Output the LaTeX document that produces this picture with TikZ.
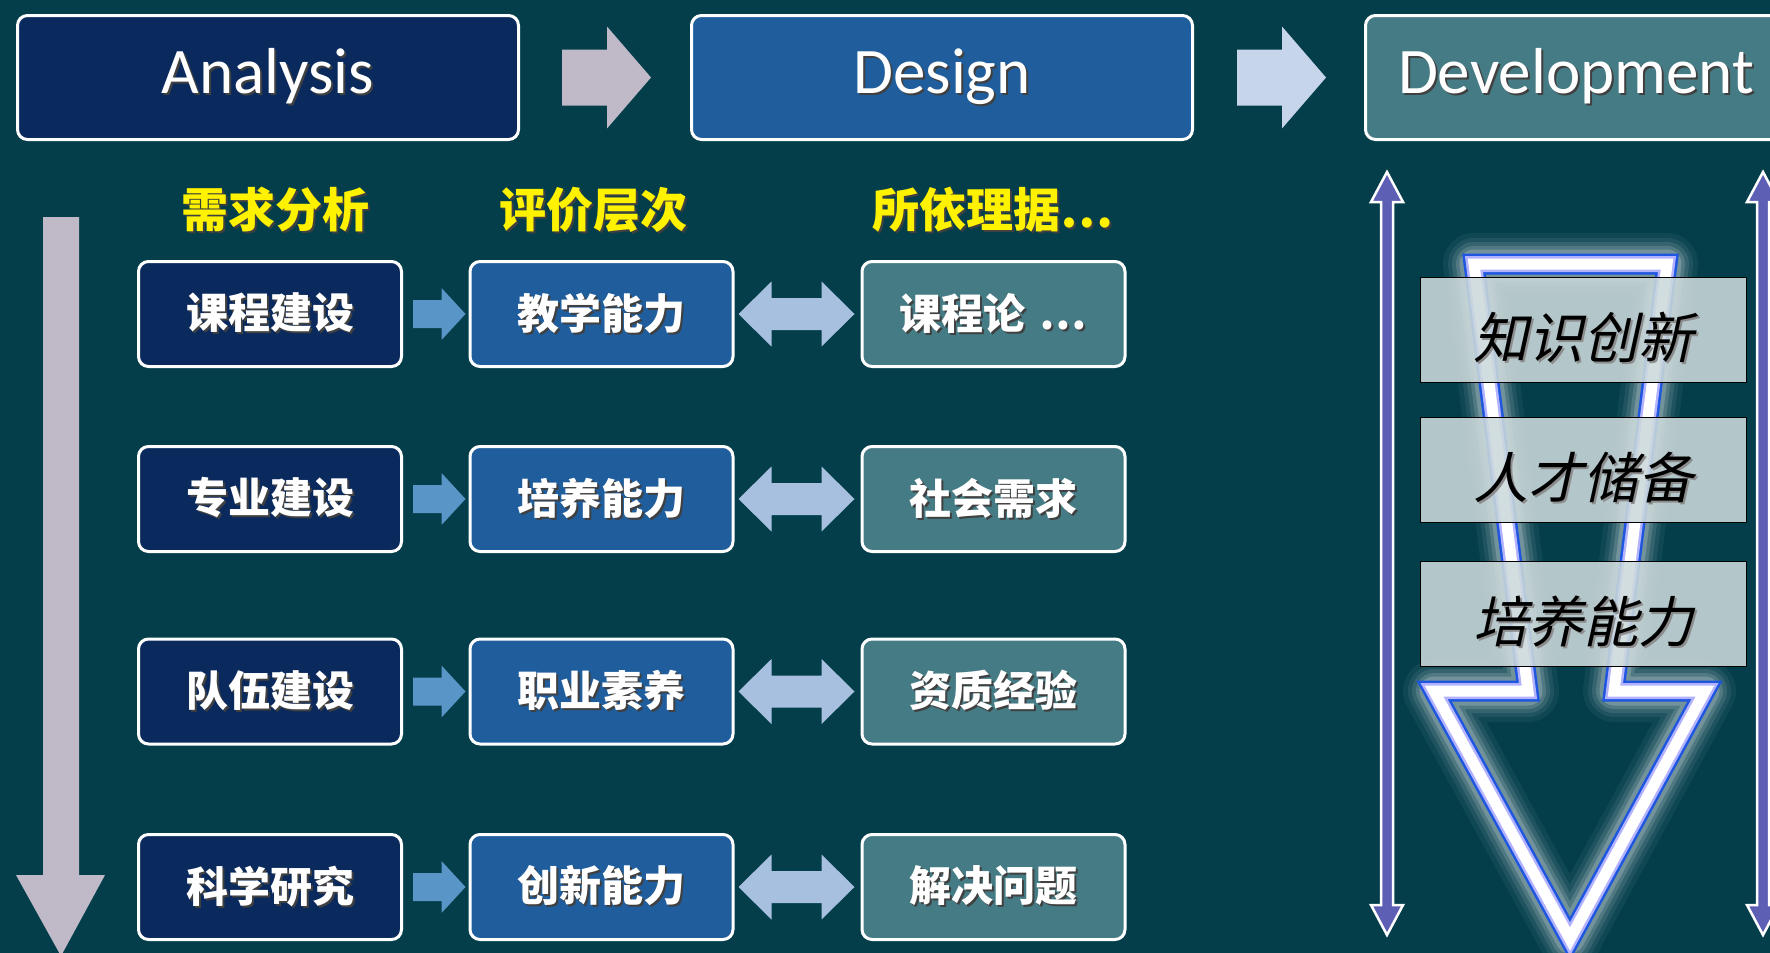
\documentclass[tikz,border=0pt]{standalone}
\usepackage{fontspec}
\setmainfont{Carlito}
\newfontfamily\cjk{Noto Sans CJK SC}
\newfontfamily\cjkit[FakeSlant=0.22]{Noto Sans CJK SC}
\usetikzlibrary{calc}

\definecolor{bgteal}{HTML}{033E4A}
\definecolor{navy}{HTML}{0A2A5E}
\definecolor{midblue}{HTML}{1F5D9D}
\definecolor{teal2}{HTML}{457B84}
\definecolor{lav}{HTML}{C0B9C7}
\definecolor{ltblue}{HTML}{C6D5EA}
\definecolor{smblue}{HTML}{5A95C8}
\definecolor{dblue}{HTML}{A7C0DF}
\definecolor{purp}{HTML}{5C5FB3}
\definecolor{glowblue}{HTML}{1E56E0}
\definecolor{outfill}{HTML}{CCD9DB}

% text with a small drop shadow
\newcommand\shd[2][black!75]{\rlap{\kern2pt\raisebox{-2pt}{\color{#1}#2}}#2}

% block arrows between two boxes
\newcommand\blockarrow[6][]{%
  \fill[#1] let \p1 = (#2), \p2 = (#3) in
    (\x1, {\y1-#4}) -- ({\x2-#6}, {\y1-#4}) -- ({\x2-#6}, {\y1-#5})
    -- (\x2, \y1) -- ({\x2-#6}, {\y1+#5}) -- ({\x2-#6}, {\y1+#4})
    -- (\x1, {\y1+#4}) -- cycle;}
\newcommand\doublearrow[6][]{%
  \fill[#1] let \p1 = (#2), \p2 = (#3) in
    (\x1, \y1) -- ({\x1+#6}, {\y1+#5}) -- ({\x1+#6}, {\y1+#4})
    -- ({\x2-#6}, {\y1+#4}) -- ({\x2-#6}, {\y1+#5}) -- (\x2, \y1)
    -- ({\x2-#6}, {\y1-#5}) -- ({\x2-#6}, {\y1-#4})
    -- ({\x1+#6}, {\y1-#4}) -- ({\x1+#6}, {\y1-#5}) -- cycle;}

\begin{document}
\begin{tikzpicture}[x = 1pt, y = -1pt,
  topbox/.style = {draw = white, line width = 3pt, rounded corners = 10pt,
    minimum width = 501pt, minimum height = 124pt, text = white,
    font = \fontsize{65}{70}\selectfont},
  rowbox/.style = {draw = white, line width = 3pt, rounded corners = 10pt,
    minimum width = 263pt, minimum height = 105pt, text = white,
    font = \cjk\bfseries\fontsize{42}{46}\selectfont},
  head/.style = {text = yellow, font = \cjk\bfseries\fontsize{47}{50}\selectfont},
  outbox/.style = {draw = black, line width = 1pt, fill = outfill,
    fill opacity = .88, text opacity = 1, minimum width = 326pt,
    minimum height = 105pt, text = black, text height = 64pt, text depth = 7pt,
    font = \cjkit\fontsize{55}{60}\selectfont}]

\fill [bgteal] (0, 0) rectangle (1770, 953);
\useasboundingbox (0, 0) rectangle (1770, 953);
\clip (0, 0) rectangle (1770, 953);

% top row
\node [topbox, fill = navy] (ana) at (268, 77.5) {\shd{Analysis}};
\node [topbox, fill = midblue] (des) at (942, 77.5) {\shd{Design}};
\node [topbox, fill = teal2, minimum width = 421pt] (dev) at (1576, 77.5) {\shd{Development}};
\blockarrow[lav]{$(ana.east)+(42,0)$}{$(des.west)+(-39,0)$}{28pt}{51pt}{44pt}
\blockarrow[ltblue]{$(des.east)+(43,0)$}{$(dev.west)+(-38,0)$}{28pt}{51pt}{44pt}

% left down arrow
\fill [lav] (43, 217) -- (79, 217) -- (79, 875) -- (105, 875) -- (61, 956)
  -- (16, 875) -- (43, 875) -- cycle;

\node [head] (hneed) at (275, 211) {\shd{需求分析}};
\node [head] (heval) at (593, 211) {\shd{评价层次}};
\node [head] (hbase) at (993, 211) {\shd{所依理据⋯}};

\foreach \y/\a/\b/\c [count = \i] in {314/课程建设/教学能力/{课程论\hspace{14pt}⋯},
  499/专业建设/培养能力/社会需求, 691.5/队伍建设/职业素养/资质经验,
  887/科学研究/创新能力/解决问题}
{
  \node [rowbox, fill = navy] (need\i) at (270, \y) {\shd{\a}};
  \node [rowbox, fill = midblue] (eval\i) at (601.5, \y) {\shd{\b}};
  \node [rowbox, fill = teal2] (base\i) at (993.5, \y) {\shd{\c}};
  \blockarrow[smblue]{$(need\i.east)+(10,0)$}{$(eval\i.west)+(-3,0)$}{14pt}{26pt}{24pt}
  \doublearrow[dblue]{$(eval\i.east)+(4,0)$}{$(base\i.west)+(-6,0)$}{16pt}{32.5pt}{33pt}
}

% right side
\foreach \x in {1387, 1763}
  \draw [white, line width = 2.5pt, fill = purp]
    (\x, 172) -- ({\x+16}, 202) -- ({\x+6}, 202) -- ({\x+6}, 905) -- ({\x+16}, 905)
    -- (\x, 935) -- ({\x-16}, 905) -- ({\x-6}, 905) -- ({\x-6}, 202)
    -- ({\x-16}, 202) -- cycle;

\def\glowpath{(1474, 264) -- (1667, 264) -- (1614, 691) -- (1705, 691) -- (1570, 939)
  -- (1434, 691) -- (1528, 691) -- cycle}
\foreach \w/\o in {62/.05, 52/.07, 44/.1, 36/.14, 29/.2}
  \draw [white, line width = \w pt, opacity = \o, line join = round] \glowpath;
\draw [glowblue, line width = 21pt] \glowpath;
\draw [blue!30!white, line width = 16pt] \glowpath;
\draw [white, line width = 11pt] \glowpath;

\foreach \y/\t [count = \i] in {329.5/知识创新, 469.5/人才储备, 613.5/培养能力}
  \node [outbox] (out\i) at (1583, \y) {\shd[black!45]{\t}};
\end{tikzpicture}
\end{document}
